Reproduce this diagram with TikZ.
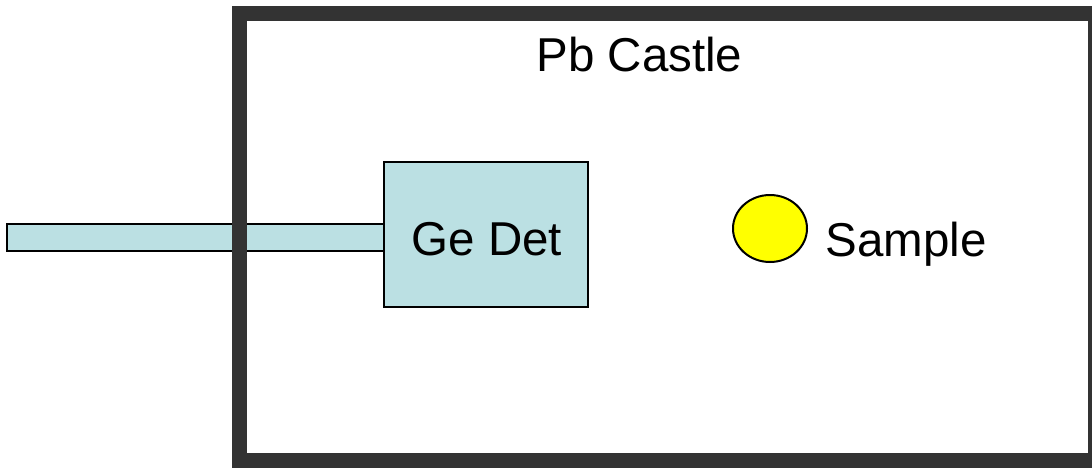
\documentclass[tikz,border=0pt]{standalone}
\usepackage{fontspec}
\setmainfont{Liberation Sans}
\usetikzlibrary{shapes.geometric}
\definecolor{castlegray}{HTML}{333333}
\definecolor{detcyan}{HTML}{BBE0E3}
\definecolor{sampyellow}{HTML}{FFFF00}
\begin{document}
\begin{tikzpicture}[x=0.5pt,y=-0.5pt,
  lbl/.style={font=\fontsize{23.75pt}{28pt}\selectfont, inner sep=0pt, anchor=base},
  pipe/.style={draw=black, fill=detcyan, line width=1pt, inner sep=0pt},
  detbox/.style={draw=black, fill=detcyan, line width=1pt, inner sep=0pt},
  castle/.style={draw=castlegray, line width=7.5pt, inner sep=0pt},
  samp/.style={ellipse, draw=black, fill=sampyellow, line width=1pt, inner sep=0pt}]
\useasboundingbox (0,0) rectangle (1092,467);
\node[pipe, minimum width=189pt, minimum height=13.5pt] (pipe) at (196,237) {};
\node[castle, minimum width=428pt, minimum height=223.75pt] (castle) at (667.5,236.75) {};
\node[detbox, minimum width=102pt, minimum height=72.5pt] (det) at (486,234.5) {};
\node[lbl] (detlbl) at (487,255) {Ge Det};
\node[samp, minimum width=37pt, minimum height=33.5pt] (sample) at (770,228.5) {};
\node[lbl, anchor=base west] (samplelbl) at (825,256) {Sample};
\node[lbl] (castlelbl) at (639.5,71) {Pb Castle};
\end{tikzpicture}
\end{document}
